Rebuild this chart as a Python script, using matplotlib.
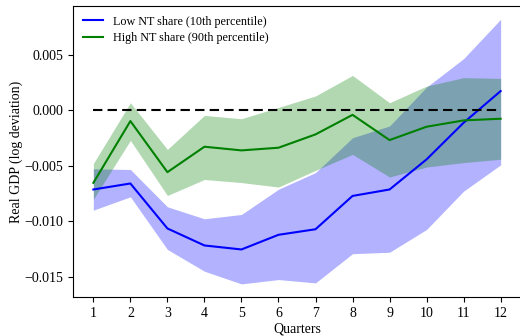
import matplotlib
matplotlib.use("Agg")
import matplotlib.pyplot as plt
import numpy as np

plt.rcParams["font.family"] = ["Liberation Serif", "DejaVu Serif"]
plt.rcParams["mathtext.fontset"] = "stix"

quarters = [1, 2, 3, 4, 5, 6, 7, 8, 9, 10, 11, 12]

# Low NT share (10th percentile): point estimate and band
low_mid = [-0.00712, -0.00658, -0.01063, -0.01216, -0.01252, -0.01120,
           -0.01070, -0.00770, -0.00712, -0.00441, -0.00111, 0.00174]
low_lo = [-0.00898, -0.00778, -0.01252, -0.01448, -0.01562, -0.01523,
          -0.01553, -0.01290, -0.01277, -0.01072, -0.00727, -0.00490]
low_hi = [-0.00526, -0.00532, -0.00868, -0.00976, -0.00937, -0.00710,
          -0.00560, -0.00246, -0.00140, 0.00210, 0.00466, 0.00820]

# High NT share (90th percentile): point estimate and band
high_mid = [-0.00652, -0.00096, -0.00556, -0.00327, -0.00360, -0.00336,
            -0.00216, -0.00040, -0.00267, -0.00147, -0.00090, -0.00075]
high_lo = [-0.00800, -0.00270, -0.00766, -0.00622, -0.00650, -0.00690,
           -0.00540, -0.00396, -0.00600, -0.00510, -0.00470, -0.00440]
high_hi = [-0.00478, 0.00069, -0.00351, -0.00045, -0.00075, 0.00027,
           0.00130, 0.00315, 0.00069, 0.00219, 0.00295, 0.00288]

fig = plt.figure(figsize=(5.2, 3.36), dpi=100)
ax = fig.add_axes([73 / 520, 39 / 336, 448 / 520, 291 / 336])

ax.fill_between(quarters, low_lo, low_hi, color="blue", alpha=0.3, linewidth=0)
ax.fill_between(quarters, high_lo, high_hi, color="green", alpha=0.3, linewidth=0)
ax.plot(quarters, low_mid, color="blue", lw=1.5, label="Low NT share (10th percentile)")
ax.plot(quarters, high_mid, color="green", lw=1.5, label="High NT share (90th percentile)")
ax.plot([quarters[0], quarters[-1]], [0, 0], color="black", lw=1.5, ls=(0, (4.5, 2.5)))

ax.set_xlim(0.45, 12.55)
ax.set_ylim(-0.0168, 0.0094)
ax.set_xticks(quarters)
ax.set_yticks([-0.015, -0.010, -0.005, 0.000, 0.005])
ax.set_yticklabels(["\u22120.015", "\u22120.010", "\u22120.005", "0.000", "0.005"])
ax.tick_params(labelsize=10, length=3.5, width=0.8)
ax.set_xlabel("Quarters", fontsize=10, labelpad=2)
ax.set_ylabel("Real GDP (log deviation)", fontsize=10, labelpad=1)

ax.legend(loc="upper left", frameon=False, fontsize=8.7, handlelength=1.7,
          labelspacing=0.35, borderaxespad=0.4)

fig.savefig("out.png", dpi=100)
